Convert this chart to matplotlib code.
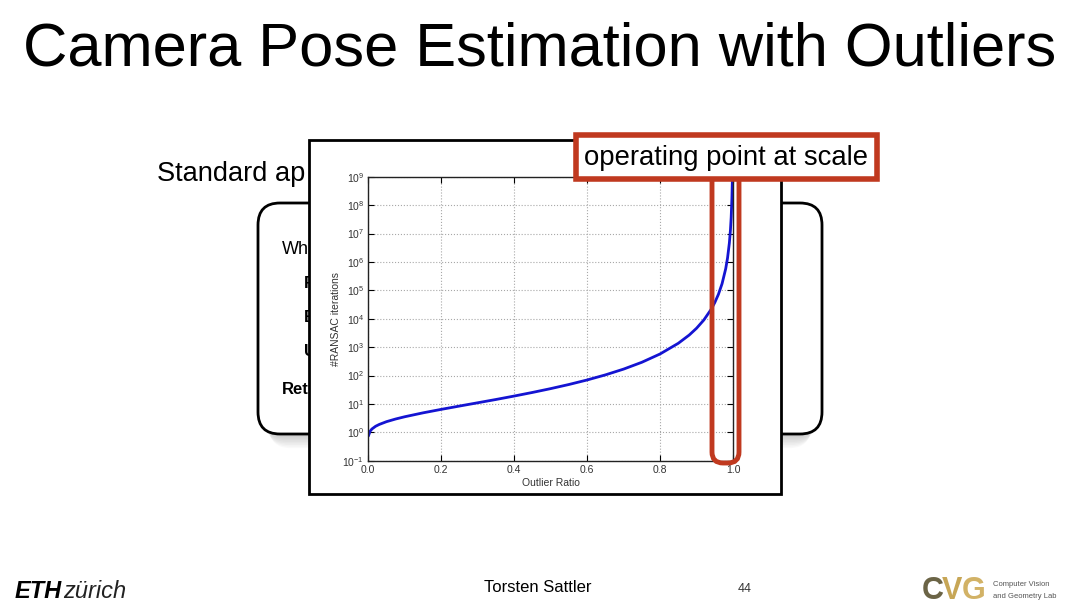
import matplotlib
matplotlib.use("Agg")
import matplotlib.pyplot as plt
from matplotlib.patches import FancyBboxPatch, Rectangle

plt.rcParams["font.family"] = ["Liberation Sans", "DejaVu Sans"]

# values
outlier_ratio = [0.001, 0.005, 0.01, 0.02, 0.03, 0.05, 0.075, 0.1, 0.15, 0.2,
                 0.25, 0.3, 0.35, 0.4, 0.45, 0.5, 0.55, 0.6, 0.65, 0.7,
                 0.75, 0.8, 0.85, 0.88, 0.9, 0.92, 0.94, 0.95, 0.96, 0.97,
                 0.98, 0.985, 0.99, 0.993, 0.995, 0.997, 0.998, 0.9985]
ransac_iters = [0.79, 1.1, 1.31, 1.63, 1.89, 2.37, 2.94, 3.53, 4.84, 6.42,
                8.4, 10.96, 14.3, 18.9, 25.3, 34.5, 48.2, 69.6, 105, 168,
                292, 573, 1362, 2663, 4603, 8992, 21318, 36840, 71953, 170550,
                575600, 1.364e6, 4.6e6, 1.343e7, 3.68e7, 1.706e8, 5.76e8, 1.364e9]
x_ticks = [0.0, 0.2, 0.4, 0.6, 0.8, 1.0]
y_ticks = [1e-1, 1e0, 1e1, 1e2, 1e3, 1e4, 1e5, 1e6, 1e7, 1e8, 1e9]

W, H = 1080, 607
fig = plt.figure(figsize=(W / 100, H / 100), dpi=100)


def pixel_axes(z):
    a = fig.add_axes([0, 0, 1, 1], zorder=z)
    a.set_xlim(0, W)
    a.set_ylim(H, 0)
    a.axis("off")
    a.patch.set_alpha(0)
    return a


# --- slide background layer ---
bg = pixel_axes(0)
bg.text(540, 65, "Camera Pose Estimation with Outliers", fontsize=44.2,
        ha="center", va="baseline", color="black")
# only the part left of the chart panel is visible in the slide
bg.text(157, 181, "Standard ap", fontsize=19.6, ha="left", va="baseline")

# soft shadow under the rounded box
for k in range(8):
    bg.add_patch(FancyBboxPatch((262 + k, 215 + k * 1.6), 556 - 2 * k, 222,
                                boxstyle="round,pad=0,rounding_size=22",
                                fc="#000000", ec="none", alpha=0.025))
bg.add_patch(FancyBboxPatch((258, 203), 564, 231,
                            boxstyle="round,pad=0,rounding_size=22",
                            fc="white", ec="black", lw=2))
bg.text(282, 249, "While", fontsize=13, ha="left", va="center")
for yy, s in zip([284, 318, 352], ["R", "E", "U"]):
    bg.text(304, yy, s, fontsize=12, fontweight="bold", ha="left", va="center")
bg.text(282, 389, "Return", fontsize=12, fontweight="bold", ha="left", va="center")

# footer
bg.text(15, 591, "ETH", fontsize=17, fontweight="heavy", style="italic",
        ha="left", va="center")
bg.text(63, 591, "zürich", fontsize=17, style="italic", ha="left", va="center",
        color="#222222")
bg.text(538, 588, "Torsten Sattler", fontsize=12, ha="center", va="center")
bg.text(745, 589, "44", fontsize=9, ha="center", va="center", color="#333333")
bg.text(922, 591, "C", fontsize=22, fontweight="bold", ha="left", va="center",
        color="#6b6446")
bg.text(942, 591, "V", fontsize=22, fontweight="bold", ha="left", va="center",
        color="#c7a656")
bg.text(962, 591, "G", fontsize=22, fontweight="bold", ha="left", va="center",
        color="#d2b266")
bg.text(993, 585, "Computer Vision", fontsize=5.5, ha="left", va="center",
        color="#555555")
bg.text(993, 596, "and Geometry Lab", fontsize=5.5, ha="left", va="center",
        color="#555555")

# --- embedded chart panel ---
panel = pixel_axes(1)
panel.add_patch(Rectangle((309, 140), 472, 354, fc="white", ec="black", lw=2))

ax = fig.add_axes([368.3 / W, 1 - 460.7 / H, 364.7 / W, 284 / H], zorder=2)
ax.plot(outlier_ratio, ransac_iters, color="#1414d2", lw=2)
ax.set_yscale("log")
ax.set_xlim(0, 1)
ax.set_ylim(1e-1, 1e9)
ax.set_xticks(x_ticks)
ax.set_yticks(y_ticks)
ax.minorticks_off()
ax.grid(True, which="major", color="#a8a8a8", linestyle=":", lw=0.8)
ax.tick_params(which="major", direction="in", top=True, right=True,
               labelsize=7.5, labelcolor="#333333", pad=3, length=4)
ax.set_xlabel("Outlier Ratio", fontsize=7.5, color="#333333", labelpad=2)
ax.set_ylabel("#RANSAC iterations", fontsize=7.5, color="#333333", labelpad=1)
for sp in ax.spines.values():
    sp.set_color("#222222")
    sp.set_linewidth(1)

# --- red annotation overlay ---
red = "#c0391f"
ov = pixel_axes(3)
ov.add_patch(FancyBboxPatch((712, 168), 27, 295,
                            boxstyle="round,pad=0,rounding_size=11",
                            fc="none", ec=red, lw=3.5))
ov.add_patch(Rectangle((576, 135), 301, 44, fc="white", ec=red, lw=4))
ov.text(726, 158, "operating point at scale", fontsize=19.8, ha="center",
        va="center", color="black")

fig.savefig("out.png", dpi=100)
